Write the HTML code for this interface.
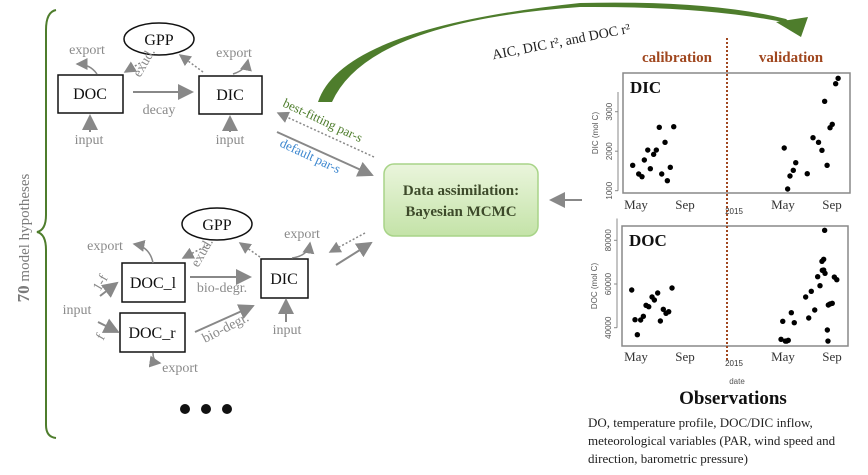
<!DOCTYPE html>
<html><head><meta charset="utf-8"><style>
html,body{margin:0;padding:0;background:#fff}
svg{display:block;font-family:"Liberation Serif",serif}
.g{fill:#8a8a8a;font-size:14px}
.b{font-size:16px;fill:#111}
</style></head><body>
<svg id="fig" width="868" height="475" viewBox="0 0 868 475">
<defs>
<marker id="ag" markerWidth="8" markerHeight="8" refX="7" refY="4" orient="auto"><path d="M0,0 L8,4 L0,8 Z" fill="#888"/></marker>
<linearGradient id="gg" x1="0" y1="0" x2="0" y2="1"><stop offset="0" stop-color="#eaf5dc"/><stop offset="1" stop-color="#c4e3a8"/></linearGradient>
</defs>

<path d="M56,10 Q46,12 46,30 L46,215 Q46,230 37,232 Q46,234 46,250 L46,425 Q46,437 56,438" fill="none" stroke="#4e7d2c" stroke-width="2"/>
<text transform="translate(29,238) rotate(-90)" text-anchor="middle" font-size="15" fill="#7a7a7a"><tspan font-weight="bold" font-size="17">70</tspan> model hypotheses</text>

<g>
<ellipse cx="159" cy="39" rx="35" ry="16" fill="#fff" stroke="#111" stroke-width="1.5"/>
<text x="159" y="45" text-anchor="middle" class="b">GPP</text>
<rect x="58" y="75" width="65" height="38" fill="#fff" stroke="#111" stroke-width="1.5"/>
<text x="90" y="99" text-anchor="middle" class="b">DOC</text>
<rect x="199" y="76" width="63" height="38" fill="#fff" stroke="#111" stroke-width="1.5"/>
<text x="230" y="100" text-anchor="middle" class="b">DIC</text>
<text x="87" y="54" text-anchor="middle" class="g">export</text>
<text x="234" y="57" text-anchor="middle" class="g">export</text>
<path d="M97,74 Q90,64 77,64" fill="none" stroke="#888" stroke-width="1.5" marker-end="url(#ag)"/>
<path d="M233,74 Q246,70 248,60" fill="none" stroke="#888" stroke-width="1.5" marker-end="url(#ag)"/>
<path d="M140,63 L125,72" stroke="#888" stroke-width="1.5" stroke-dasharray="2,2" marker-end="url(#ag)"/>
<text transform="translate(140,78) rotate(-60)" class="g" font-size="12">exud.</text>
<path d="M203,72 L180,55" stroke="#888" stroke-width="1.5" stroke-dasharray="2,2" marker-end="url(#ag)"/>
<path d="M133,92 L192,92" stroke="#888" stroke-width="2" marker-end="url(#ag)"/>
<text x="159" y="114" text-anchor="middle" class="g">decay</text>
<path d="M90,132 L90,116" stroke="#888" stroke-width="2" marker-end="url(#ag)"/>
<text x="89" y="144" text-anchor="middle" class="g">input</text>
<path d="M230,132 L230,117" stroke="#888" stroke-width="2" marker-end="url(#ag)"/>
<text x="230" y="144" text-anchor="middle" class="g">input</text>
</g>

<g>
<ellipse cx="217" cy="224" rx="35" ry="16" fill="#fff" stroke="#111" stroke-width="1.5"/>
<text x="217" y="230" text-anchor="middle" class="b">GPP</text>
<rect x="122" y="263" width="63" height="39" fill="#fff" stroke="#111" stroke-width="1.5"/>
<text x="153" y="288" text-anchor="middle" class="b">DOC_l</text>
<rect x="120" y="313" width="65" height="39" fill="#fff" stroke="#111" stroke-width="1.5"/>
<text x="152" y="338" text-anchor="middle" class="b">DOC_r</text>
<rect x="261" y="259" width="47" height="39" fill="#fff" stroke="#111" stroke-width="1.5"/>
<text x="284" y="284" text-anchor="middle" class="b">DIC</text>
<text x="105" y="250" text-anchor="middle" class="g">export</text>
<path d="M153,263 Q150,247 134,244" fill="none" stroke="#888" stroke-width="1.5" marker-end="url(#ag)"/>
<text transform="translate(198,268) rotate(-60)" class="g" font-size="12">exud.</text>
<path d="M208,245 L183,258" stroke="#888" stroke-width="1.5" stroke-dasharray="2,2" marker-end="url(#ag)"/>
<path d="M260,257 L240,243" stroke="#888" stroke-width="1.5" stroke-dasharray="2,2" marker-end="url(#ag)"/>
<text x="302" y="238" text-anchor="middle" class="g">export</text>
<path d="M292,258 Q308,256 310,243" fill="none" stroke="#888" stroke-width="1.5" marker-end="url(#ag)"/>
<path d="M190,277 L250,277" stroke="#888" stroke-width="2" marker-end="url(#ag)"/>
<text x="222" y="292" text-anchor="middle" class="g" font-size="13">bio-degr.</text>
<path d="M195,332 L253,306" stroke="#888" stroke-width="2" marker-end="url(#ag)"/>
<text transform="translate(205,343) rotate(-27)" class="g" font-size="13">bio-degr.</text>
<text x="77" y="314" text-anchor="middle" class="g">input</text>
<path d="M100,296 L117,283" stroke="#888" stroke-width="2" marker-end="url(#ag)"/>
<text transform="translate(100,292) rotate(-60)" class="g" font-size="11">1-f</text>
<path d="M98,322 L118,332" stroke="#888" stroke-width="2" marker-end="url(#ag)"/>
<text transform="translate(103,341) rotate(-60)" class="g" font-size="11">f</text>
<path d="M286,322 L286,300" stroke="#888" stroke-width="2" marker-end="url(#ag)"/>
<text x="287" y="334" text-anchor="middle" class="g">input</text>
<path d="M153,353 Q153,362 160,363" fill="none" stroke="#888" stroke-width="1.5" marker-end="url(#ag)"/>
<text x="180" y="372" text-anchor="middle" class="g">export</text>
<circle cx="185" cy="409" r="5" fill="#111"/>
<circle cx="206" cy="409" r="5" fill="#111"/>
<circle cx="227" cy="409" r="5" fill="#111"/>
</g>

<path d="M374,157 L278,113" stroke="#888" stroke-width="1.5" stroke-dasharray="2,2" marker-end="url(#ag)"/>
<path d="M277,132 L372,175" stroke="#888" stroke-width="2" marker-end="url(#ag)"/>
<text transform="translate(282,106) rotate(25)" font-size="13" fill="#4e7d2c">best-fitting par-s</text>
<text transform="translate(279,146) rotate(25)" font-size="13" fill="#3b86cf">default par-s</text>
<path d="M365,233 L330,252" stroke="#888" stroke-width="1.5" stroke-dasharray="2,2" marker-end="url(#ag)"/>
<path d="M336,265 L371,243" stroke="#888" stroke-width="2" marker-end="url(#ag)"/>
<path d="M582,200 L551,200" stroke="#888" stroke-width="2" marker-end="url(#ag)"/>

<rect x="384" y="164" width="154" height="72" rx="10" fill="url(#gg)" stroke="#a8d488" stroke-width="1.5"/>
<text x="461" y="195" text-anchor="middle" font-size="15" font-weight="bold" fill="#3d4a2a">Data assimilation:</text>
<text x="461" y="216" text-anchor="middle" font-size="15" font-weight="bold" fill="#3d4a2a">Bayesian MCMC</text>

<path d="M318,102 Q342,28 580,3 Q710,0 786,19 L792,24 Q710,6 580,7 Q368,22 332,102 Z" fill="#4e7d2c"/>
<path d="M776,22 L808,17 L801,37 Z" fill="#4e7d2c"/>
<text transform="translate(562,46) rotate(-11)" text-anchor="middle" font-size="14" fill="#222">AIC, DIC r², and DOC r²</text>

<text x="677" y="62" text-anchor="middle" font-size="15" font-weight="bold" fill="#a0471f">calibration</text>
<text x="791" y="62" text-anchor="middle" font-size="15" font-weight="bold" fill="#a0471f">validation</text>
<g id="charts"></g>
<line x1="727" y1="38" x2="727" y2="362" stroke="#a0471f" stroke-width="2" stroke-dasharray="2,2"/>
<text x="737" y="384" text-anchor="middle" font-family="Liberation Sans,sans-serif" font-size="8" fill="#555">date</text>

<text x="733" y="404" text-anchor="middle" font-size="19" font-weight="bold" fill="#111">Observations</text>
<text font-size="13" fill="#222"><tspan x="588" y="427">DO, temperature profile, DOC/DIC inflow,</tspan><tspan x="588" y="445">meteorological variables (PAR, wind speed and</tspan><tspan x="588" y="463">direction, barometric pressure)</tspan></text>
</svg>
<script>
// months since Jan 2014
const dicMonths=[3.73,4.22,4.49,4.68,4.96,5.17,5.44,5.66,5.9,6.1,6.37,6.56,6.8,7.08,16.1,16.38,16.57,16.84,17.04,17.98,18.45,18.9,19.18,19.4,19.6,19.84,20.02,20.3,20.5];
const dicValues=[1643,1423,1355,1777,2030,1557,1920,2030,2605,1423,2225,1253,1592,2620,2081,1043,1372,1516,1709,1430,2342,2225,2022,3263,1643,2595,2681,3709,3846];
const docMonths=[3.65,3.92,4.11,4.38,4.6,4.82,5.04,5.31,5.5,5.77,5.99,6.23,6.45,6.67,6.94,15.84,15.98,16.19,16.3,16.43,16.68,16.92,17.85,18.1,18.31,18.59,18.83,19.02,19.18,19.21,19.32,19.32,19.4,19.43,19.62,19.67,19.7,19.84,20.02,20.19,20.39];
const docValues=[57250,43660,36800,43520,45200,50250,49600,54050,52680,55880,43070,48400,46600,47330,58170,34690,42930,33900,33900,34230,46870,42290,54050,44440,56660,48100,63340,59220,70390,66270,71300,66400,84570,64900,38950,33900,50390,50850,51170,63190,61970];
const xTickMonths=[4,8,12,16,20];
const xTickLabels=['May','Sep','2015','May','Sep'];
const dicTicks=[1000,2000,3000];
const docTicks=[40000,60000,80000];

const NS='http://www.w3.org/2000/svg';
const root=document.getElementById('charts');
function mk(tag,attrs,parent,txt){const e=document.createElementNS(NS,tag);for(const k in attrs)e.setAttribute(k,attrs[k]);if(txt!=null)e.textContent=txt;(parent||root).appendChild(e);return e;}
const xScale=m=>636+(m-4)*12.25;
function panel(name,box,v0,v1,ticks,months,values,title,ytitle,labY){
  const g=mk('g',{});
  
  
  const y=v=>box.b-(v-v0)/(v1-v0)*(box.b-box.t);
  const r=mk('rect',{x:box.l,y:box.t,width:box.r-box.l,height:box.b-box.t,fill:'#fff',stroke:'#888','stroke-width':1.5},g);
  
  
  const t=mk('text',{x:box.l+7,y:box.t+20,'font-size':17,'font-weight':'bold',fill:'#111'},g,title);
  
  
  const ax=box.l-5;
  mk('line',{x1:ax,y1:y(ticks[0]),x2:ax,y2:y(ticks[ticks.length-1]+(ticks[1]-ticks[0])/2),stroke:'#888','stroke-width':1},g);
  ticks.forEach(v=>{
    mk('line',{x1:ax-3,y1:y(v),x2:ax,y2:y(v),stroke:'#888'},g);
    const tl=mk('text',{transform:`translate(${ax-6},${y(v)}) rotate(-90)`,'text-anchor':'middle','font-size':8,'font-family':'Liberation Sans,sans-serif',fill:'#555'},g,String(v));
    
    
  });
  const yt=mk('text',{transform:`translate(${ax-20},${(box.t+box.b)/2}) rotate(-90)`,'text-anchor':'middle','font-size':8,'font-family':'Liberation Sans,sans-serif',fill:'#555'},g,ytitle);
  
  
  xTickMonths.forEach((m,i)=>{
    const isYear=xTickLabels[i]==='2015';
    const xl=mk('text',{x:xScale(m),y:labY+(isYear?5:0),'text-anchor':'middle','font-size':isYear?8:13,'font-family':isYear?'Liberation Sans,sans-serif':'Liberation Serif,serif',fill:'#333'},g,xTickLabels[i]);
    
    
  });
  months.forEach((m,i)=>{
    const c=mk('circle',{cx:xScale(m),cy:y(values[i]),r:2.7,fill:'#000'},g);
    
    
  });
}
const boxD={l:623,t:73,r:850,b:193};
panel('dic',boxD,1000-(193-190.7)/39.5*1000,1000+(190.7-73)/39.5*1000,dicTicks,dicMonths,dicValues,'DIC','DIC (mol C)',209);
const boxO={l:622,t:226,r:848,b:346};
panel('doc',boxO,40000-(346-327.7)/43.7*20000,40000+(327.7-226)/43.7*20000,docTicks,docMonths,docValues,'DOC','DOC (mol C)',361);
</script>
</body></html>
